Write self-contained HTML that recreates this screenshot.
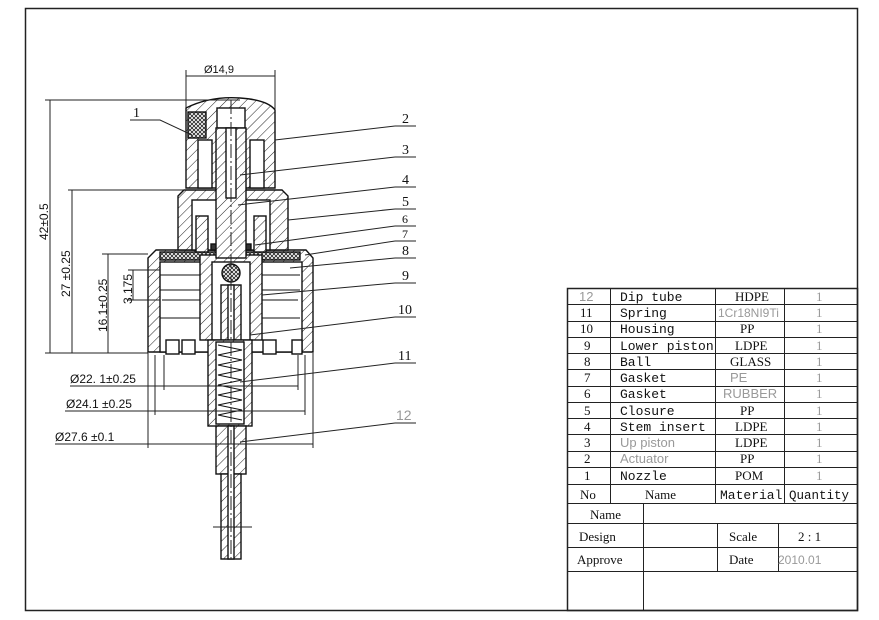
<!DOCTYPE html>
<html><head><meta charset="utf-8"><style>
html,body{margin:0;padding:0;background:#fff}
svg{display:block}
text{font-family:"Liberation Serif",serif;fill:#111}
.s{font-family:"Liberation Sans",sans-serif}
.m{font-family:"Liberation Mono",monospace}
.g{fill:#999}
</style></head><body>
<svg width="879" height="620" viewBox="0 0 879 620" xmlns="http://www.w3.org/2000/svg">
<defs>
<pattern id="h" width="7" height="7" patternUnits="userSpaceOnUse" patternTransform="rotate(45)">
<rect width="7" height="7" fill="#fff"/><line x1="0" y1="0" x2="0" y2="7" stroke="#222" stroke-width="1"/></pattern>
<pattern id="x" width="4" height="4" patternUnits="userSpaceOnUse">
<rect width="4" height="4" fill="#fff"/><path d="M0 0L4 4M4 0L0 4" stroke="#222" stroke-width="0.8"/></pattern>
</defs>
<rect x="0" y="0" width="879" height="620" fill="#fff"/>
<rect x="25.5" y="8.5" width="832" height="602" fill="none" stroke="#222" stroke-width="1.5"/>

<g stroke="#222" stroke-width="1" fill="none">
<rect x="567.5" y="288.5" width="290" height="322" stroke-width="1.5"/>
<path d="M610.5 288V503M715.5 288V503M784.5 288V503"/>
<path d="M567 304.5H857M567 321.5H857M567 337.5H857M567 353.5H857M567 369.5H857M567 386.5H857M567 402.5H857M567 418.5H857M567 434.5H857M567 451.5H857M567 467.5H857M567 484.5H857M567 503.5H857M567 523.5H857M567 547.5H857M567 571.5H857"/>
<path d="M643.5 503V610M717.5 523V571M778.5 523V571"/>
</g>
<g font-size="13">
<text x="579" y="301" class="s g">12</text><text x="620" y="301" class="m">Dip tube</text><text x="735" y="301">HDPE</text><text x="816" y="301" class="g">1</text>
<text x="580" y="317">11</text><text x="620" y="317" class="m">Spring</text><text x="718" y="317" class="s g" font-size="12">1Cr18NI9Ti</text><text x="816" y="317" class="g">1</text>
<text x="580" y="333">10</text><text x="620" y="333" class="m">Housing</text><text x="740" y="333">PP</text><text x="816" y="333" class="g">1</text>
<text x="584" y="350">9</text><text x="620" y="350" class="m">Lower piston</text><text x="735" y="350">LDPE</text><text x="816" y="350" class="g">1</text>
<text x="584" y="366">8</text><text x="620" y="366" class="m">Ball</text><text x="730" y="366">GLASS</text><text x="816" y="366" class="g">1</text>
<text x="584" y="382">7</text><text x="620" y="382" class="m">Gasket</text><text x="730" y="382" class="s g">PE</text><text x="816" y="382" class="g">1</text>
<text x="584" y="398">6</text><text x="620" y="398" class="m">Gasket</text><text x="723" y="398" class="s g">RUBBER</text><text x="816" y="398" class="g">1</text>
<text x="584" y="415">5</text><text x="620" y="415" class="m">Closure</text><text x="740" y="415">PP</text><text x="816" y="415" class="g">1</text>
<text x="584" y="431">4</text><text x="620" y="431" class="m">Stem insert</text><text x="735" y="431">LDPE</text><text x="816" y="431" class="g">1</text>
<text x="584" y="447">3</text><text x="620" y="447" class="s g">Up piston</text><text x="735" y="447">LDPE</text><text x="816" y="447" class="g">1</text>
<text x="584" y="463">2</text><text x="620" y="463" class="s g">Actuator</text><text x="740" y="463">PP</text><text x="816" y="463" class="g">1</text>
<text x="584" y="480">1</text><text x="620" y="480" class="m">Nozzle</text><text x="735" y="480">POM</text><text x="816" y="480" class="g">1</text>
<text x="580" y="499">No</text><text x="645" y="499">Name</text><text x="720" y="499" class="m">Material</text><text x="789" y="499" class="m" font-size="12.5">Quantity</text>
<text x="590" y="519">Name</text>
<text x="579" y="541">Design</text><text x="729" y="541">Scale</text><text x="798" y="541">2 : 1</text>
<text x="577" y="564">Approve</text><text x="729" y="564">Date</text><text x="778" y="564" class="s g" font-size="12">2010.01</text>
</g>

<g stroke="#111" stroke-width="1.4">
<path d="M148 258 L156 250 L306 250 L313 258 L313 352 L148 352 Z" fill="url(#h)"/>
<rect x="160" y="262" width="142" height="90" fill="#fff"/>
<path d="M160 275H300M160 290H300M162 300H298M160 318H300" stroke-width="1" fill="none"/>
<rect x="166" y="340" width="13" height="14" fill="#fff"/><rect x="182" y="340" width="13" height="14" fill="#fff"/>
<rect x="263" y="340" width="13" height="14" fill="#fff"/><rect x="292" y="340" width="10" height="14" fill="#fff"/>
<path d="M178 196 L184 190 L282 190 L288 196 L288 250 L178 250 Z" fill="url(#h)"/>
<rect x="192" y="200" width="78" height="50" fill="#fff"/>
<rect x="160" y="252" width="140" height="8" fill="url(#x)"/>
<rect x="196" y="216" width="12" height="36" fill="url(#h)"/>
<rect x="254" y="216" width="12" height="36" fill="url(#h)"/>
<rect x="200" y="255" width="62" height="85" fill="url(#h)"/>
<rect x="212" y="262" width="38" height="78" fill="#fff"/>
<circle cx="231" cy="273" r="9" fill="url(#x)"/>
<rect x="221" y="285" width="20" height="55" fill="url(#h)"/>
<rect x="228" y="285" width="6" height="55" fill="#fff"/>
<rect x="211" y="244" width="6" height="6" fill="#333"/><rect x="245" y="244" width="6" height="6" fill="#333"/>
<path d="M186 108 Q210 96 240 98 Q268 100 275 110 L275 188 L186 188 Z" fill="url(#h)"/>
<rect x="198" y="140" width="14" height="48" fill="#fff"/><rect x="250" y="140" width="14" height="48" fill="#fff"/>
<rect x="188" y="112" width="18" height="26" fill="url(#x)"/>
<rect x="217" y="108" width="28" height="20" fill="#fff"/>
<rect x="216" y="128" width="30" height="130" fill="url(#h)"/>
<rect x="226" y="128" width="10" height="70" fill="#fff"/>
<rect x="208" y="340" width="44" height="86" fill="url(#h)"/>
<rect x="216" y="342" width="28" height="82" fill="#fff"/>
<path d="M218 345 L242 350 L218 355 L242 360 L218 365 L242 370 L218 375 L242 380 L218 385 L242 390 L218 395 L242 400 L218 405 L242 410 L218 415 L242 420" fill="none" stroke-width="1"/>
<rect x="216" y="426" width="30" height="48" fill="url(#h)"/>
<rect x="221" y="474" width="20" height="85" fill="url(#h)"/>
<rect x="228" y="426" width="6" height="133" fill="#fff"/>
</g>
<g stroke="#222" stroke-width="1" fill="none">
<path d="M231 100V560" stroke-dasharray="14 3 2 3"/>
<path d="M213 527H252"/>
<path d="M186 70V108M275 70V110M186 76H275"/>
<path d="M45 100H240M45 353H148M50 100V353M68 190H186M72 190V353M102 254H148M108 254V353M128 270H160M128 300H160M133 270V300"/>
<path d="M70 386H298M164 355V390M298 355V390"/>
<path d="M65 411H305M155 355V415M305 355V415"/>
<path d="M55 444H313M148 353V448M313 353V448"/>
<path d="M130 120H160L192 135"/>
<path d="M395 126H416M395 126L275 140"/>
<path d="M395 157H416M395 157L240 175"/>
<path d="M395 187H416M395 187L238 205"/>
<path d="M395 209H416M395 209L288 220"/>
<path d="M395 226H416M395 226L255 245"/>
<path d="M395 241H416M395 241L305 255"/>
<path d="M395 258H416M395 258L290 268"/>
<path d="M395 283H416M395 283L262 295"/>
<path d="M395 317H416M395 317L250 335"/>
<path d="M395 363H416M395 363L240 382"/>
<path d="M395 423H416M395 423L240 442"/>
</g>
<g font-size="14">
<text x="204" y="73" class="s" font-size="11">Ø14,9</text>
<text x="133" y="117">1</text>
<text x="402" y="123">2</text><text x="402" y="154">3</text><text x="402" y="184">4</text><text x="402" y="206">5</text>
<text x="402" y="223" font-size="12">6</text><text x="402" y="238" font-size="12">7</text><text x="402" y="255">8</text><text x="402" y="280">9</text>
<text x="398" y="314">10</text><text x="398" y="360">11</text><text x="396" y="420" class="s g" font-size="14">12</text>
<text transform="translate(48,240) rotate(-90)" class="s" font-size="12">42±0.5</text>
<text transform="translate(70,297) rotate(-90)" class="s" font-size="12">27 ±0.25</text>
<text transform="translate(107,332) rotate(-90)" class="s" font-size="12">16.1±0.25</text>
<text transform="translate(132,304) rotate(-90)" class="s" font-size="12">3.175</text>
<text x="70" y="383" class="s" font-size="12">Ø22. 1±0.25</text>
<text x="66" y="408" class="s" font-size="12">Ø24.1 ±0.25</text>
<text x="55" y="441" class="s" font-size="12">Ø27.6 ±0.1</text>
</g>
</svg>
</body></html>
